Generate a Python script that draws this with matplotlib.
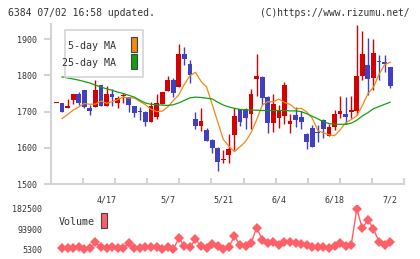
import matplotlib
matplotlib.use('Agg')
import matplotlib.pyplot as plt
import numpy as np
import pandas as pd
from matplotlib.patches import Rectangle

# ---------------- data ----------------
opens = [1723, 1723, 1709, 1732, 1748, 1759, 1711, 1713, 1773, 1715,
         1748, 1725, 1744, 1739, 1715, 1702, 1698, 1672, 1686, 1722,
         1758, 1787, 1767, 1859, 1831, 1679, 1661, 1649, 1621, 1600,
         1567, 1580, 1635, 1706, 1706, 1692, 1789, 1796, 1741, 1669,
         1683, 1688, 1666, 1690, 1684, 1638, 1656, 1643, 1678, 1633,
         1658, 1692, 1694, 1699, 1702, 1799, 1828, 1794, 1840, 1836, 1822]
highs = [1724, 1723, 1734, 1748, 1755, 1760, 1718, 1787, 1773, 1772,
         1763, 1742, 1752, 1740, 1716, 1712, 1702, 1727, 1748, 1755,
         1798, 1793, 1886, 1879, 1842, 1698, 1709, 1654, 1623, 1601,
         1594, 1638, 1709, 1708, 1709, 1762, 1859, 1797, 1742, 1750,
         1718, 1781, 1692, 1712, 1702, 1640, 1663, 1663, 1680, 1667,
         1704, 1743, 1739, 1743, 1939, 1922, 1902, 1900, 1856, 1856, 1822]
lows = [1723, 1700, 1709, 1720, 1718, 1709, 1690, 1713, 1715, 1715,
        1715, 1710, 1723, 1698, 1686, 1678, 1661, 1672, 1679, 1722,
        1758, 1739, 1767, 1830, 1780, 1651, 1647, 1620, 1586, 1537,
        1557, 1557, 1594, 1661, 1651, 1651, 1743, 1718, 1640, 1644,
        1655, 1665, 1640, 1658, 1651, 1598, 1603, 1615, 1626, 1633,
        1649, 1683, 1666, 1681, 1690, 1787, 1747, 1761, 1787, 1810, 1766]
closes = [1724, 1700, 1715, 1748, 1725, 1713, 1702, 1759, 1715, 1748,
          1741, 1737, 1746, 1718, 1697, 1698, 1672, 1715, 1723, 1755,
          1787, 1752, 1859, 1844, 1801, 1661, 1674, 1620, 1600, 1560,
          1569, 1597, 1688, 1672, 1683, 1748, 1798, 1737, 1669, 1721,
          1701, 1773, 1674, 1677, 1670, 1615, 1603, 1641, 1651, 1658,
          1693, 1701, 1686, 1704, 1798, 1859, 1789, 1863, 1838, 1832, 1771]

# 5-day MA values for the first days (window reaches before the chart)
ma5_head = [1681, 1692, 1704, 1713]

# 25-day MA
ma25 = [1796, 1793, 1790, 1787, 1783, 1779, 1773, 1768, 1763, 1759,
        1754, 1750, 1745, 1740, 1731, 1724, 1720, 1719, 1718, 1717,
        1719, 1724, 1731, 1738, 1740, 1739, 1737, 1735, 1726, 1718,
        1713, 1709, 1706, 1705, 1704, 1704, 1703, 1703, 1703, 1703,
        1703, 1702, 1702, 1700, 1694, 1687, 1680, 1672, 1667, 1665,
        1665, 1665, 1668, 1676, 1688, 1697, 1708, 1714, 1720, 1726]

volume = [9700, 12600, 9700, 14100, 5300, 9700, 36100, 14100, 9700, 14100,
          9700, 9700, 31700, 9700, 9700, 14100, 14100, 14100, 5300, 14100,
          5300, 53600, 19950, 14100, 49200, 19950, 9700, 28700, 19950, 5300,
          14100, 63900, 24300, 19950, 31700, 100500, 46300, 31700, 39000, 24300,
          36100, 39000, 31700, 27300, 24300, 17000, 17000, 17000, 9800, 21300,
          31700, 21300, 24300, 182500, 97600, 134200, 94600, 39000, 24300, 36100]

date_labels = ['4/17', '5/7', '5/21', '6/4', '6/18', '7/2']
date_index = [9, 20, 30, 40, 50, 60]
price_ticks = [1500, 1600, 1700, 1800, 1900]
vol_ticks = [5300, 93900, 182500]

title_left = '6384 07/02 16:58 updated.'
title_right = '(C)https://www.rizumu.net/'

# ---------------- style ----------------
RED = '#d50000'
BLUE = '#4040c0'
ORANGE = '#f08a10'
GREEN = '#12a012'
VOLC = '#ff5f66'
AXC = '#d4d4d4'
TXT = '#333333'
MONO = 'DejaVu Sans Mono'

W, H = 420, 259
fig = plt.figure(figsize=(W / 100, H / 100), dpi=100)

n = len(closes)
x = np.arange(n)
xlim = (-1.04, 62.55)

# main axes
ax = fig.add_axes([50.7 / W, (H - 184) / H, 353.6 / W, 160 / H])
ax.set_xlim(*xlim)
ax.set_ylim(1500, 1942)

o = np.array(opens, float); c = np.array(closes, float)
hi = np.array(highs, float); lo = np.array(lows, float)
up = c >= o
cols = np.where(up, RED, BLUE)
bottom = np.minimum(o, c)
height = np.maximum(np.abs(c - o), 2.6)
ax.vlines(x, lo, hi, colors=cols, linewidth=1.0, zorder=2)
ax.bar(x, height, bottom=bottom, width=0.86, color=cols, linewidth=0, zorder=3)

ma5 = pd.Series(closes, dtype=float).rolling(5).mean().to_numpy()
ma5 = np.concatenate([ma5_head, ma5[4:]])
xm = np.arange(1, n + 1)[:len(ma5)]
ax.plot(xm[:n - 1], ma5[:n - 1], color=ORANGE, lw=0.9, zorder=4)
ax.plot(np.arange(1, len(ma25) + 1), ma25, color=GREEN, lw=0.9, zorder=4)

for s in ['top', 'right']:
    ax.spines[s].set_visible(False)
for s in ['left', 'bottom']:
    ax.spines[s].set_color(AXC)
    ax.spines[s].set_linewidth(1.5)

ax.set_yticks(price_ticks)
ax.set_yticklabels([str(v) for v in price_ticks], fontsize=6, family=MONO, color=TXT)
ax.tick_params(axis='y', length=5, width=1.5, color=AXC, pad=5)

grid_x = np.linspace(xlim[0], xlim[1], 12)
ax.set_xticks(grid_x)
ax.set_xticklabels([])
ax.tick_params(axis='x', which='major', direction='in', length=4, width=1.5, color=AXC)
ax.set_xticks(date_index, minor=True)
ax.set_xticklabels(date_labels, minor=True, fontsize=6, family=MONO, color=TXT)
ax.tick_params(axis='x', which='minor', length=0, pad=8)

# legend box (main)
def axfrac(px, py):
    return ((px - 50.7) / 353.6, (184 - py) / 160)

bx0, by0 = axfrac(65, 77.3)
bx1, by1 = axfrac(143.3, 30)
ax.add_patch(Rectangle((bx0, by0), bx1 - bx0, by1 - by0, transform=ax.transAxes,
                       facecolor='white', edgecolor=AXC, lw=1.2, zorder=6))
for label, yy, col, sy0, sy1 in [('5-day MA', 46, ORANGE, 51.7, 36.7),
                                  ('25-day MA', 62.7, GREEN, 69.3, 54.3)]:
    tx, ty = axfrac(116, yy)
    ax.text(tx, ty, label, transform=ax.transAxes, ha='right', va='center',
            fontsize=7.2, family=MONO, color=TXT, zorder=7)
    sx0, syb = axfrac(131, sy0)
    sx1, syt = axfrac(137.3, sy1)
    ax.add_patch(Rectangle((sx0, syb), sx1 - sx0, syt - syb, transform=ax.transAxes,
                           facecolor=col, edgecolor='#444444', lw=0.8, zorder=7))

# volume axes
vtop, vbot = 205.0, 253.3
vax = fig.add_axes([50.7 / W, (H - vbot) / H, 353.6 / W, (vbot - vtop) / H])
vax.set_xlim(*xlim)
per_px = (182500 - 5300) / (249.3 - 209.0)
vax.set_ylim(5300 - (vbot - 249.3) * per_px, 182500 + (209.0 - vtop) * per_px)
vax.plot(np.arange(1, len(volume) + 1), volume, color=VOLC, lw=1.0,
         marker='D', markersize=4.8, markeredgewidth=0, zorder=3)
for s in vax.spines.values():
    s.set_visible(False)
vax.set_xticks([])
vax.set_yticks(vol_ticks)
vax.set_yticklabels([str(v) for v in vol_ticks], fontsize=6, family=MONO, color=TXT)
vax.tick_params(axis='y', length=0, pad=6)
vax.patch.set_alpha(0)

def vfrac(px, py):
    return ((px - 50.7) / 353.6, (vbot - py) / (vbot - vtop))

tx, ty = vfrac(59, 221.7)
vax.text(tx, ty, 'Volume', transform=vax.transAxes, ha='left', va='center',
         fontsize=7.2, family=MONO, color=TXT)
sx0, sy0 = vfrac(101, 228.3)
sx1, sy1 = vfrac(107, 213.3)
vax.add_patch(Rectangle((sx0, sy0), sx1 - sx0, sy1 - sy0, transform=vax.transAxes,
                        facecolor=VOLC, edgecolor='#444444', lw=0.8, clip_on=False))

fig.text(8 / W, 1 - 12.7 / H, title_left, ha='left', va='center',
         fontsize=7, family=MONO, color=TXT)
fig.text(409 / W, 1 - 12.7 / H, title_right, ha='right', va='center',
         fontsize=6.9, family=MONO, color=TXT)

fig.savefig('out.png', dpi=100, facecolor='white')
